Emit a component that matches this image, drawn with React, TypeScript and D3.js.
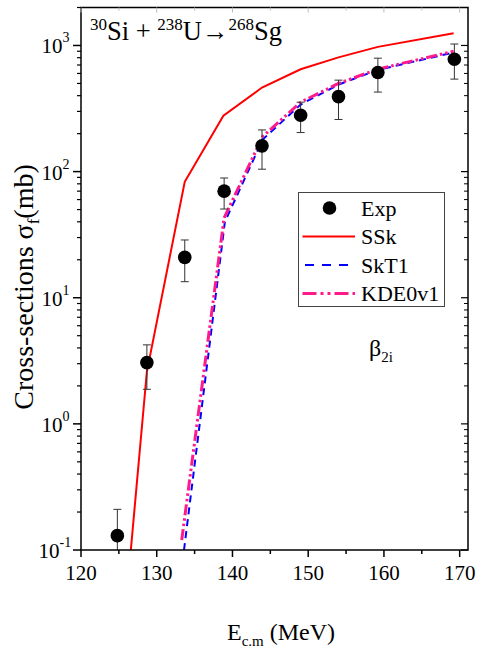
import React from "react";
import * as d3 from "d3";

// ---- data ----
const expE = [124.8, 128.7, 133.7, 138.9, 143.9, 149.0, 154.0, 159.2, 169.3];
const expSigma = [0.13, 3.06, 20.9, 70, 160, 280, 393, 610, 778];
const expUp = [0.21, 4.23, 28.7, 89, 214, 355, 531, 793, 1027];
const expLow = [0.08, 1.88, 13.4, 50.5, 104.5, 204, 259, 427, 541];

const sskE = [124.8, 128.7, 133.7, 138.8, 143.9, 149.0, 154.0, 159.2, 169.2];
const sskSigma = [0.0065, 2.6, 83, 277, 464, 648, 805, 975, 1250];

const skt1E = [133.6, 139.0, 144.0, 149.0, 154.0, 159.2, 169.2];
const skt1Sigma = [0.1, 40, 180, 340, 490, 640, 880];

const kdeE = [133.3, 138.9, 144.0, 149.0, 154.0, 159.2, 169.2];
const kdeSigma = [0.12, 43, 190, 355, 500, 650, 900];

const xTicks = [120, 130, 140, 150, 160, 170];
const xMinor = [125, 135, 145, 155, 165];
const yExponents = [-1, 0, 1, 2, 3];

const legendLabels = ["Exp", "SSk", "SkT1", "KDE0v1"];

const FONT = "Liberation Serif";

export default function App() {
  const W = 477, H = 649;
  const left = 81, right = 468, top = 7.5, bottom = 550;
  const x = d3.scaleLinear().domain([120, 171.1]).range([left, right]);
  const y = d3.scaleLog().domain([0.1, 2000]).range([bottom, top]);

  const yMinor: number[] = [];
  for (let e = -1; e <= 3; e++) {
    for (let m = 2; m <= 9; m++) {
      const v = m * Math.pow(10, e);
      if (v <= 2000) yMinor.push(v);
    }
  }

  const line = d3
    .line<[number, number]>()
    .x((d) => x(d[0]))
    .y((d) => y(d[1]));

  const ssk = line(sskE.map((e, i) => [e, sskSigma[i]] as [number, number])) || "";
  const skt1 = line(skt1E.map((e, i) => [e, skt1Sigma[i]] as [number, number])) || "";
  const kde = line(kdeE.map((e, i) => [e, kdeSigma[i]] as [number, number])) || "";

  const red = "#ff0000";
  const blue = "#0000ff";
  const pink = "#ff1a8c";
  const kdeDash = "11,3,2.5,3,2.5,3";

  const legX = 298.5, legY = 192.5, legW = 146, legH = 114;
  const rowY = [208, 236.5, 265, 293.5];

  return (
    <svg width={W} height={H} style={{ position: "absolute", left: 0, top: 0 }}>
      <rect x={0} y={0} width={W} height={H} fill="#fff" />
      <defs>
        <clipPath id="plot">
          <rect x={left} y={top} width={right - left} height={bottom - top} />
        </clipPath>
      </defs>

      {/* curves */}
      <g clipPath="url(#plot)" fill="none">
        <path d={ssk} stroke={red} strokeWidth={2} />
        <path d={skt1} stroke={blue} strokeWidth={2} strokeDasharray="7,5" />
        <path d={kde} stroke={pink} strokeWidth={3} strokeDasharray={kdeDash} />
      </g>

      {/* exp points */}
      <g clipPath="url(#plot)">
        {expE.map((e, i) => (
          <g key={i}>
            <line x1={x(e)} x2={x(e)} y1={y(expUp[i])} y2={y(expLow[i])} stroke="#333" strokeWidth={1} />
            <line x1={x(e) - 4} x2={x(e) + 4} y1={y(expUp[i])} y2={y(expUp[i])} stroke="#333" strokeWidth={1} />
            <line x1={x(e) - 4} x2={x(e) + 4} y1={y(expLow[i])} y2={y(expLow[i])} stroke="#333" strokeWidth={1} />
            <circle cx={x(e)} cy={y(expSigma[i])} r={6.8} fill="#000" />
          </g>
        ))}
      </g>

      {/* frame */}
      <rect x={left} y={top} width={right - left} height={bottom - top} fill="none" stroke="#000" strokeWidth={1.5} />

      {/* bottom ticks */}
      {xTicks.map((t) => (
        <g key={"xt" + t}>
          <line x1={x(t)} x2={x(t)} y1={bottom} y2={bottom + 7} stroke="#000" strokeWidth={1.5} />
          <text x={x(t)} y={580} textAnchor="middle" fontFamily={FONT} fontSize={21}>
            {t}
          </text>
          <line x1={x(t)} x2={x(t)} y1={top} y2={top + 5} stroke="#bbb" strokeWidth={1} />
        </g>
      ))}
      {xMinor.map((t) => (
        <g key={"xm" + t}>
          <line x1={x(t)} x2={x(t)} y1={bottom} y2={bottom + 4} stroke="#000" strokeWidth={1.5} />
          <line x1={x(t)} x2={x(t)} y1={top} y2={top + 3} stroke="#bbb" strokeWidth={1} />
        </g>
      ))}

      {/* left & right ticks */}
      {yExponents.map((e) => {
        const v = Math.pow(10, e);
        return (
          <g key={"yt" + e}>
            <line x1={left - 8} x2={left} y1={y(v)} y2={y(v)} stroke="#000" strokeWidth={1.5} />
            <line x1={right - 7} x2={right} y1={y(v)} y2={y(v)} stroke="#000" strokeWidth={1.2} />
            <text x={e < 0 ? 38.5 : 41.5} y={y(v) + 8} fontFamily={FONT} fontSize={21}>
              10
              <tspan fontSize={14} dy={-11}>
                {e < 0 ? "-" + Math.abs(e) : String(e)}
              </tspan>
            </text>
          </g>
        );
      })}
      {yMinor.map((v) => (
        <g key={"ym" + v}>
          <line x1={left - 4} x2={left} y1={y(v)} y2={y(v)} stroke="#000" strokeWidth={1.2} />
          <line x1={right - 4} x2={right} y1={y(v)} y2={y(v)} stroke="#000" strokeWidth={1} />
        </g>
      ))}

      {/* title */}
      <text x={90} y={39.5} fontFamily={FONT} fontSize={26.5}>
        <tspan fontSize={17} dy={-9.5}>30</tspan>
        <tspan dy={9.5}>Si + </tspan>
        <tspan fontSize={17} dy={-9.5}>238</tspan>
        <tspan dy={9.5}>U→</tspan>
        <tspan fontSize={17} dy={-9.5}>268</tspan>
        <tspan dy={9.5}>Sg</tspan>
      </text>

      {/* beta label */}
      <text x={369} y={356} fontFamily={FONT} fontSize={24}>
        β<tspan fontSize={15} dy={6}>2i</tspan>
      </text>

      {/* axis labels */}
      <text x={227} y={640} fontFamily={FONT} fontSize={24}>
        E<tspan fontSize={15} dy={6}>c.m</tspan>
        <tspan dy={-6}> (MeV)</tspan>
      </text>
      <text transform="translate(33,287) rotate(-90)" textAnchor="middle" fontFamily={FONT} fontSize={28}>
        Cross-sections σ<tspan fontSize={17} dy={6}>f</tspan>
        <tspan dy={-6}>(mb)</tspan>
      </text>

      {/* legend */}
      <rect x={legX} y={legY} width={legW} height={legH} fill="#fff" stroke="#444" strokeWidth={1} />
      <circle cx={329.5} cy={rowY[0]} r={6.8} fill="#000" />
      <line x1={302.5} x2={355} y1={rowY[1]} y2={rowY[1]} stroke={red} strokeWidth={2} />
      <line x1={305} x2={355} y1={rowY[2]} y2={rowY[2]} stroke={blue} strokeWidth={2} strokeDasharray="9,8" />
      <line x1={302.5} x2={355} y1={rowY[3]} y2={rowY[3]} stroke={pink} strokeWidth={3} strokeDasharray="14,4,3,4,3,4" />
      {legendLabels.map((l, i) => (
        <text key={l} x={361} y={rowY[i] + 7.5} fontFamily={FONT} fontSize={22}>
          {l}
        </text>
      ))}
    </svg>
  );
}
